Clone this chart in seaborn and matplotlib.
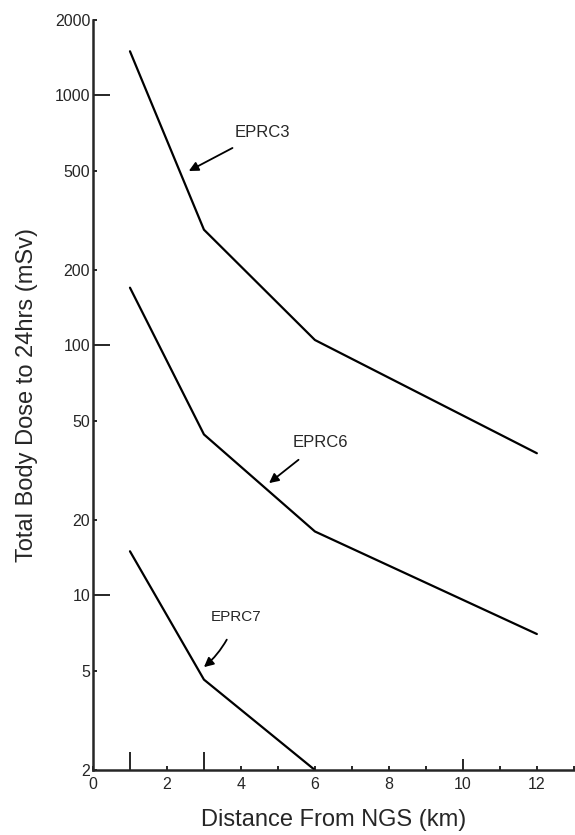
import numpy as np
import pandas as pd
import matplotlib
matplotlib.use("Agg")
import matplotlib.pyplot as plt
import seaborn as sns

# distances from the station (km) and doses (mSv)
distance_km = [1, 3, 6, 12]
eprc3_dose = [1500, 290, 105, 37]
eprc6_dose = [170, 44, 18, 7]
eprc7_distance_km = [1, 3, 6]
eprc7_dose = [15, 4.6, 2]

y_ticks = [2, 5, 10, 20, 50, 100, 200, 500, 1000, 2000]
x_ticks = list(range(0, 14))
x_labels = [str(t) if t % 2 == 0 and t <= 12 else "" for t in x_ticks]


def build_frame():
    parts = [
        pd.DataFrame({"distance": distance_km, "dose": eprc3_dose, "case": "EPRC3"}),
        pd.DataFrame({"distance": distance_km, "dose": eprc6_dose, "case": "EPRC6"}),
        pd.DataFrame({"distance": eprc7_distance_km, "dose": eprc7_dose, "case": "EPRC7"}),
    ]
    return pd.concat(parts, ignore_index=True)


def plot_dose(df):
    fig = plt.figure(figsize=(5.75, 8.35), dpi=100)
    ax = fig.add_axes([0.1617, 0.0778, 0.8363, 0.8982])

    sns.lineplot(data=df, x="distance", y="dose", hue="case",
                 palette=["black", "black", "black"], linewidth=1.6,
                 legend=False, ax=ax)

    ax.set_yscale("log")
    ax.set_ylim(2, 2000)
    ax.set_xlim(0, 13)

    ax.set_yticks(y_ticks)
    ax.set_yticklabels([str(t) for t in y_ticks])
    ax.yaxis.set_minor_locator(matplotlib.ticker.NullLocator())
    ax.set_xticks(x_ticks)
    ax.set_xticklabels(x_labels)

    ax.tick_params(axis="y", which="major", direction="in", length=3,
                   width=1.4, labelsize=11.5, pad=2)
    ax.tick_params(axis="x", which="major", direction="in", length=3,
                   width=1.4, labelsize=11.5, pad=5)

    # longer marks at the decades and at the near-field distances
    for t in ax.yaxis.get_major_ticks():
        if t.get_loc() in (10, 100, 1000):
            t.tick1line.set_markersize(12)
    for t in ax.xaxis.get_major_ticks():
        if t.get_loc() in (1, 3):
            t.tick1line.set_markersize(13)
        elif t.get_loc() == 10:
            t.tick1line.set_markersize(8)

    for side in ("top", "right"):
        ax.spines[side].set_visible(False)
    for side in ("left", "bottom"):
        ax.spines[side].set_linewidth(1.8)

    ax.set_xlabel("Distance From NGS (km)", fontsize=17, labelpad=12)
    ax.set_ylabel("Total Body Dose to 24hrs (mSv)", fontsize=17, labelpad=12)

    arrow = dict(arrowstyle="-|>", color="black", lw=1.3, mutation_scale=14)
    ax.annotate("EPRC3", xy=(2.59, 498), xytext=(3.84, 713), fontsize=12,
                va="center", ha="left", arrowprops=dict(arrow, shrinkA=8, shrinkB=0))
    ax.annotate("EPRC6", xy=(4.76, 28.1), xytext=(5.41, 41), fontsize=12,
                va="center", ha="left", arrowprops=dict(arrow, shrinkA=8, shrinkB=0))
    ax.annotate("EPRC7", xy=(3.0, 5.16), xytext=(3.19, 8.2), fontsize=11,
                va="center", ha="left",
                arrowprops=dict(arrow, shrinkA=10, shrinkB=0,
                                connectionstyle="arc3,rad=-0.15"))

    fig.savefig("out.png", dpi=100)


def main():
    sns.set_style("ticks")
    plt.rcParams["font.family"] = ["Liberation Sans", "DejaVu Sans"]
    df = build_frame()
    plot_dose(df)


if __name__ == "__main__":
    main()
